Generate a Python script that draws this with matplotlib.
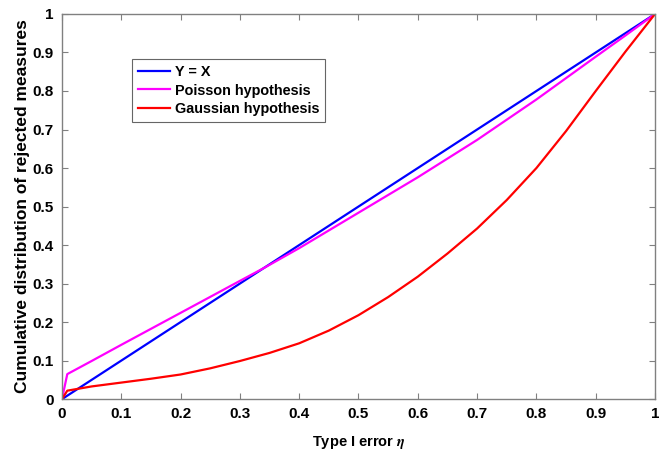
import numpy as np
import matplotlib.pyplot as plt

# valores
eta = [0.0, 0.009, 0.05, 0.1, 0.2, 0.3, 0.34, 0.4, 0.5, 0.6, 0.7, 0.8, 0.9, 0.95, 1.0]
poisson = [0.0, 0.065, 0.099, 0.141, 0.224, 0.307, 0.340, 0.392, 0.484, 0.576,
           0.673, 0.778, 0.889, 0.944, 1.0]
gauss_x = [0.0, 0.009, 0.05, 0.1, 0.15, 0.2, 0.25, 0.3, 0.35, 0.4, 0.45, 0.5, 0.55,
           0.6, 0.65, 0.7, 0.75, 0.8, 0.85, 0.9, 0.95, 1.0]
gauss = [0.0, 0.022, 0.033, 0.043, 0.053, 0.064, 0.080, 0.099, 0.120, 0.145, 0.178,
         0.218, 0.265, 0.318, 0.378, 0.443, 0.517, 0.600, 0.696, 0.800, 0.902, 1.0]
ref_x = [0.0, 1.0]
ticks = [0, 0.1, 0.2, 0.3, 0.4, 0.5, 0.6, 0.7, 0.8, 0.9, 1]
tick_labels = ['0', '0.1', '0.2', '0.3', '0.4', '0.5', '0.6', '0.7', '0.8', '0.9', '1']

plt.rcParams['font.family'] = ['Liberation Sans', 'DejaVu Sans']
plt.rcParams['font.weight'] = 'bold'
plt.rcParams['mathtext.fontset'] = 'stix'

fig = plt.figure(figsize=(6.59, 4.5), dpi=100)
ax = fig.add_axes([0.094, 0.113, 0.900, 0.856])

ax.plot(ref_x, ref_x, color='#0000ff', lw=1.6, label='Y = X')
ax.plot(eta, poisson, color='#ff00ff', lw=1.6, label='Poisson hypothesis')
ax.plot(gauss_x, gauss, color='#ff0000', lw=1.6, label='Gaussian hypothesis')

ax.set_xlim(0, 1)
ax.set_ylim(0, 1)
ax.set_xticks(ticks)
ax.set_xticklabels(tick_labels)
ax.set_yticks(ticks)
ax.set_yticklabels(tick_labels)
ax.tick_params(direction='in', length=4, width=0.8, color='#808080',
               top=True, right=True, labelsize=11, pad=6)
for s in ax.spines.values():
    s.set_color('#808080')
    s.set_linewidth(1.0)

ax.set_xlabel(r'Type I error $\eta$', fontsize=10.5, fontweight='bold', labelpad=9)
ax.set_ylabel('Cumulative distribution of rejected measures', fontsize=12.5,
              fontweight='bold', labelpad=2)

leg = ax.legend(loc='upper left', bbox_to_anchor=(0.1185, 0.882), fontsize=10.4,
                frameon=True, fancybox=False, handlelength=2.2, handletextpad=0.35,
                borderpad=0.4, labelspacing=0.3, borderaxespad=0)
leg.get_frame().set_edgecolor('#404040')
leg.get_frame().set_linewidth(0.8)

fig.savefig('out.png', dpi=100)
